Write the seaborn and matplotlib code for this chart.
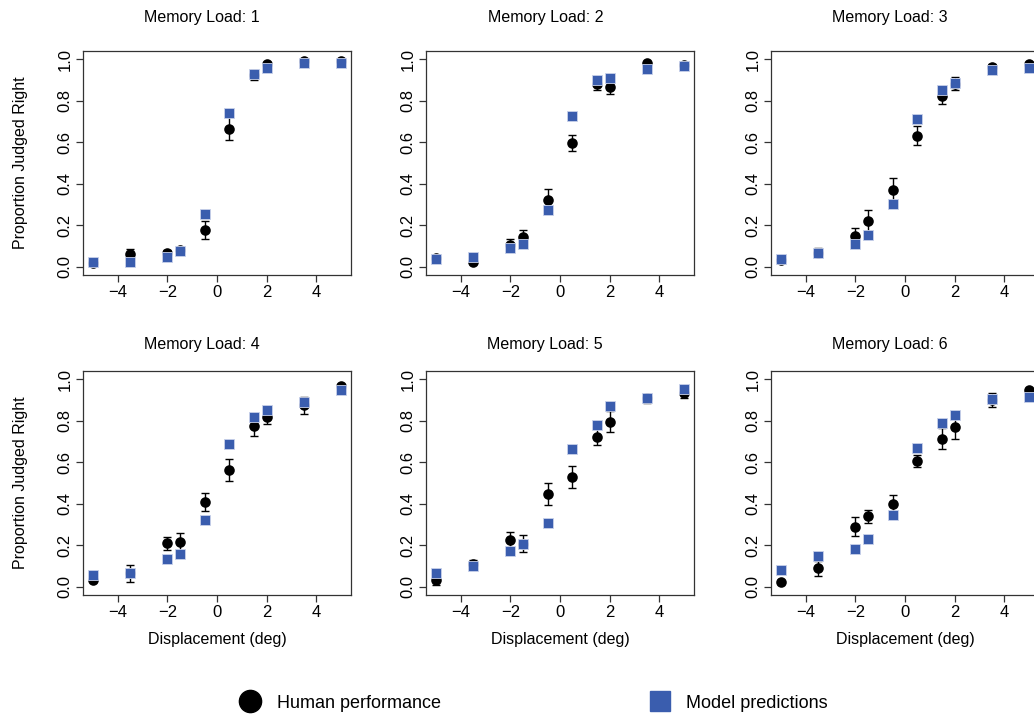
import matplotlib
matplotlib.use("Agg")
import matplotlib.pyplot as plt
from matplotlib.lines import Line2D
import seaborn as sns
import pandas as pd

# ---------------- data ----------------
displacement = [-5, -3.5, -2, -1.5, -0.5, 0.5, 1.5, 2, 3.5, 5]

human_1 = [0.02, 0.06, 0.065, 0.08, 0.175, 0.665, 0.925, 0.975, 0.99, 0.99]
sem_1 = [0.01, 0.025, 0.015, 0.015, 0.043, 0.055, 0.025, 0.01, 0.008, 0.008]
model_1 = [0.021, 0.024, 0.045, 0.075, 0.255, 0.743, 0.931, 0.96, 0.982, 0.982]

human_2 = [0.04, 0.024, 0.107, 0.142, 0.322, 0.597, 0.882, 0.865, 0.983, 0.972]
sem_2 = [0.017, 0.01, 0.027, 0.033, 0.051, 0.039, 0.032, 0.032, 0.01, 0.01]
model_2 = [0.038, 0.047, 0.091, 0.11, 0.275, 0.726, 0.898, 0.909, 0.954, 0.969]

human_3 = [0.03, 0.068, 0.146, 0.222, 0.372, 0.632, 0.823, 0.883, 0.963, 0.975]
sem_3 = [0.01, 0.021, 0.04, 0.05, 0.058, 0.047, 0.04, 0.032, 0.014, 0.01]
model_3 = [0.037, 0.068, 0.109, 0.154, 0.304, 0.71, 0.852, 0.884, 0.947, 0.96]

human_4 = [0.032, 0.066, 0.209, 0.217, 0.409, 0.565, 0.776, 0.817, 0.874, 0.966]
sem_4 = [0.01, 0.041, 0.033, 0.044, 0.042, 0.053, 0.048, 0.034, 0.041, 0.01]
model_4 = [0.055, 0.066, 0.135, 0.157, 0.324, 0.688, 0.819, 0.853, 0.892, 0.949]

human_5 = [0.032, 0.11, 0.224, 0.207, 0.448, 0.529, 0.724, 0.796, 0.908, 0.935]
sem_5 = [0.024, 0.018, 0.04, 0.04, 0.053, 0.054, 0.043, 0.052, 0.021, 0.024]
model_5 = [0.068, 0.10, 0.171, 0.208, 0.309, 0.665, 0.778, 0.87, 0.91, 0.951]

human_6 = [0.023, 0.089, 0.29, 0.339, 0.398, 0.606, 0.714, 0.768, 0.9, 0.95]
sem_6 = [0.01, 0.035, 0.046, 0.032, 0.042, 0.031, 0.052, 0.055, 0.033, 0.01]
model_6 = [0.08, 0.147, 0.182, 0.228, 0.346, 0.671, 0.787, 0.83, 0.904, 0.917]

memory_loads = [1, 2, 3, 4, 5, 6]
x_ticks = [-4, -2, 0, 2, 4]
y_ticks = [0.0, 0.2, 0.4, 0.6, 0.8, 1.0]
y_ticklabels = ["0.0", "0.2", "0.4", "0.6", "0.8", "1.0"]

humans = [human_1, human_2, human_3, human_4, human_5, human_6]
sems = [sem_1, sem_2, sem_3, sem_4, sem_5, sem_6]
models = [model_1, model_2, model_3, model_4, model_5, model_6]

frames = []
for load, h, s, m in zip(memory_loads, humans, sems, models):
    frames.append(pd.DataFrame({"load": load, "disp": displacement,
                                "human": h, "sem": s, "model": m}))
df = pd.concat(frames, ignore_index=True)

# ---------------- style ----------------
sns.set_style("white")
plt.rcParams["font.family"] = ["Liberation Sans", "DejaVu Sans"]
plt.rcParams["text.color"] = "black"
plt.rcParams["axes.labelcolor"] = "black"
plt.rcParams["xtick.color"] = "black"
plt.rcParams["ytick.color"] = "black"

BLUE = "#3A5DAE"
W, H = 1034, 715
fig = plt.figure(figsize=(W / 100, H / 100), dpi=100)

col_left = [83, 426, 771]
row_top = [51, 371]
title_pad = [21, 16]
ax_w, ax_h = 268, 224

for i, load in enumerate(memory_loads):
    r, c = divmod(i, 3)
    left = col_left[c] / W
    bottom = 1 - (row_top[r] + ax_h) / H
    ax = fig.add_axes([left, bottom, ax_w / W, ax_h / H])
    d = df[df["load"] == load]

    ax.errorbar(d["disp"], d["human"], yerr=d["sem"], fmt="none",
                ecolor="black", elinewidth=1.0, capsize=3, capthick=1.0,
                zorder=2)
    sns.scatterplot(data=d, x="disp", y="human", marker="o", color="black",
                    s=58, edgecolor="black", linewidth=0, ax=ax, zorder=3)
    sns.scatterplot(data=d, x="disp", y="model", marker="s", color=BLUE,
                    s=62, edgecolor="#c9d1ea", linewidth=0.6, ax=ax, zorder=4)

    ax.set_xlim(-5.4, 5.4)
    ax.set_ylim(-0.04, 1.04)
    ax.set_xticks(x_ticks)
    ax.set_xticklabels([str(t).replace("-", "\u2212") for t in x_ticks])
    ax.set_yticks(y_ticks)
    ax.set_yticklabels(y_ticklabels)
    ax.tick_params(axis="both", direction="out", length=5, width=0.9,
                   color="#333333", labelcolor="black", labelsize=12,
                   pad=2.5, left=True, bottom=True)
    ax.tick_params(axis="y", labelrotation=90)
    for lab in ax.get_yticklabels():
        lab.set_va("center")
    for sp in ax.spines.values():
        sp.set_visible(True)
        sp.set_color("#333333")
        sp.set_linewidth(0.9)

    ax.set_title(f"Memory Load: {load}", fontsize=11.5, pad=title_pad[r],
                 x=0.445, color="black")
    if c == 0:
        ax.set_ylabel("Proportion Judged Right", fontsize=11.5, labelpad=21)
    else:
        ax.set_ylabel("")
    if r == 1:
        ax.set_xlabel("Displacement (deg)", fontsize=11.5, labelpad=8)
    else:
        ax.set_xlabel("")

# ---------------- legend ----------------
h1 = Line2D([], [], marker="o", linestyle="none", color="black",
            markersize=16)
h2 = Line2D([], [], marker="s", linestyle="none", color=BLUE,
            markersize=15)
fig.legend([h1], ["Human performance"], loc="center left",
           bbox_to_anchor=(241 / W, 1 - 703 / H), frameon=False,
           fontsize=13, handlelength=1.0, handletextpad=1.0,
           borderpad=0, borderaxespad=0)
fig.legend([h2], ["Model predictions"], loc="center left",
           bbox_to_anchor=(651 / W, 1 - 703 / H), frameon=False,
           fontsize=13, handlelength=1.0, handletextpad=0.95,
           borderpad=0, borderaxespad=0)

fig.savefig("out.png", dpi=100)
